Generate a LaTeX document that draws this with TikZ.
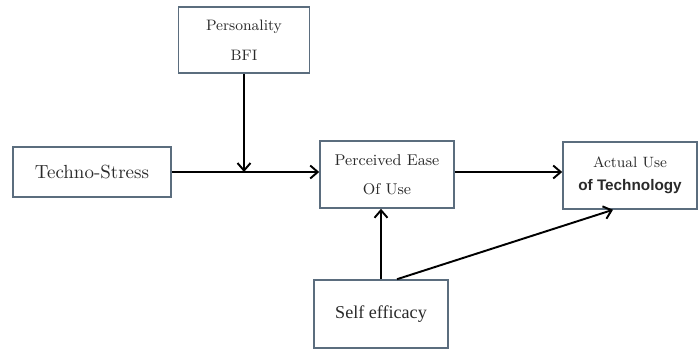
\documentclass[tikz,border=0pt]{standalone}
\usepackage{fontspec}
\usetikzlibrary{arrows.meta}
\newfontfamily\timesfont{Liberation Serif}
\newfontfamily\arialfont{Liberation Sans}
\definecolor{boxline}{HTML}{5B6D7E}
\definecolor{boxtext}{HTML}{2A2A2A}
\tikzset{
  varbox/.style={draw=boxline, line width=0.9pt, fill=white, text=boxtext,
    align=center, inner sep=0pt},
  link/.style={-{Straight Barb[length=1.5mm,width=2.6mm,line width=1.1pt]},
    line width=1.1pt, black}
}
\begin{document}
\begin{tikzpicture}[x=0.2mm, y=0.2mm]
\useasboundingbox (0,0) rectangle (699,-351);
\node [varbox, minimum width=2.62cm, minimum height=1.32cm,
  font=\fontsize{8.6}{10}\selectfont] (pers) at (244,-40)
  {Personality\\[7pt]BFI};
\node [varbox, minimum width=3.16cm, minimum height=1.0cm,
  font=\fontsize{10.8}{13}\selectfont] (techno) at (92,-172) {Techno-Stress};
\node [varbox, minimum width=2.68cm, minimum height=1.34cm,
  font=\fontsize{8.9}{10}\selectfont] (peou) at (387,-174.5)
  {Perceived Ease\\[6.5pt]Of Use};
\node [varbox, minimum width=2.68cm, minimum height=1.34cm,
  font=\fontsize{8.5}{10}\selectfont] (actual) at (630,-175.5)
  {Actual Use\\[3pt]{\arialfont\bfseries\fontsize{8.7}{10}\selectfont of Technology}};
\node [varbox, minimum width=2.68cm, minimum height=1.36cm,
  font=\timesfont\fontsize{10.3}{12}\selectfont] (self) at (381,-314) {Self efficacy};
\draw [link] (techno.east) -- (techno.east -| peou.west);
\draw [link] (pers.south) -- (pers.south |- techno.east);
\draw [link] (peou.east |- techno.east) -- (techno.east -| actual.west);
\draw [link] (self.north) -- (self.north |- peou.south);
\draw [link] ([xshift=0.32cm]self.north) -- ([xshift=-0.34cm]actual.south);
\end{tikzpicture}
\end{document}
